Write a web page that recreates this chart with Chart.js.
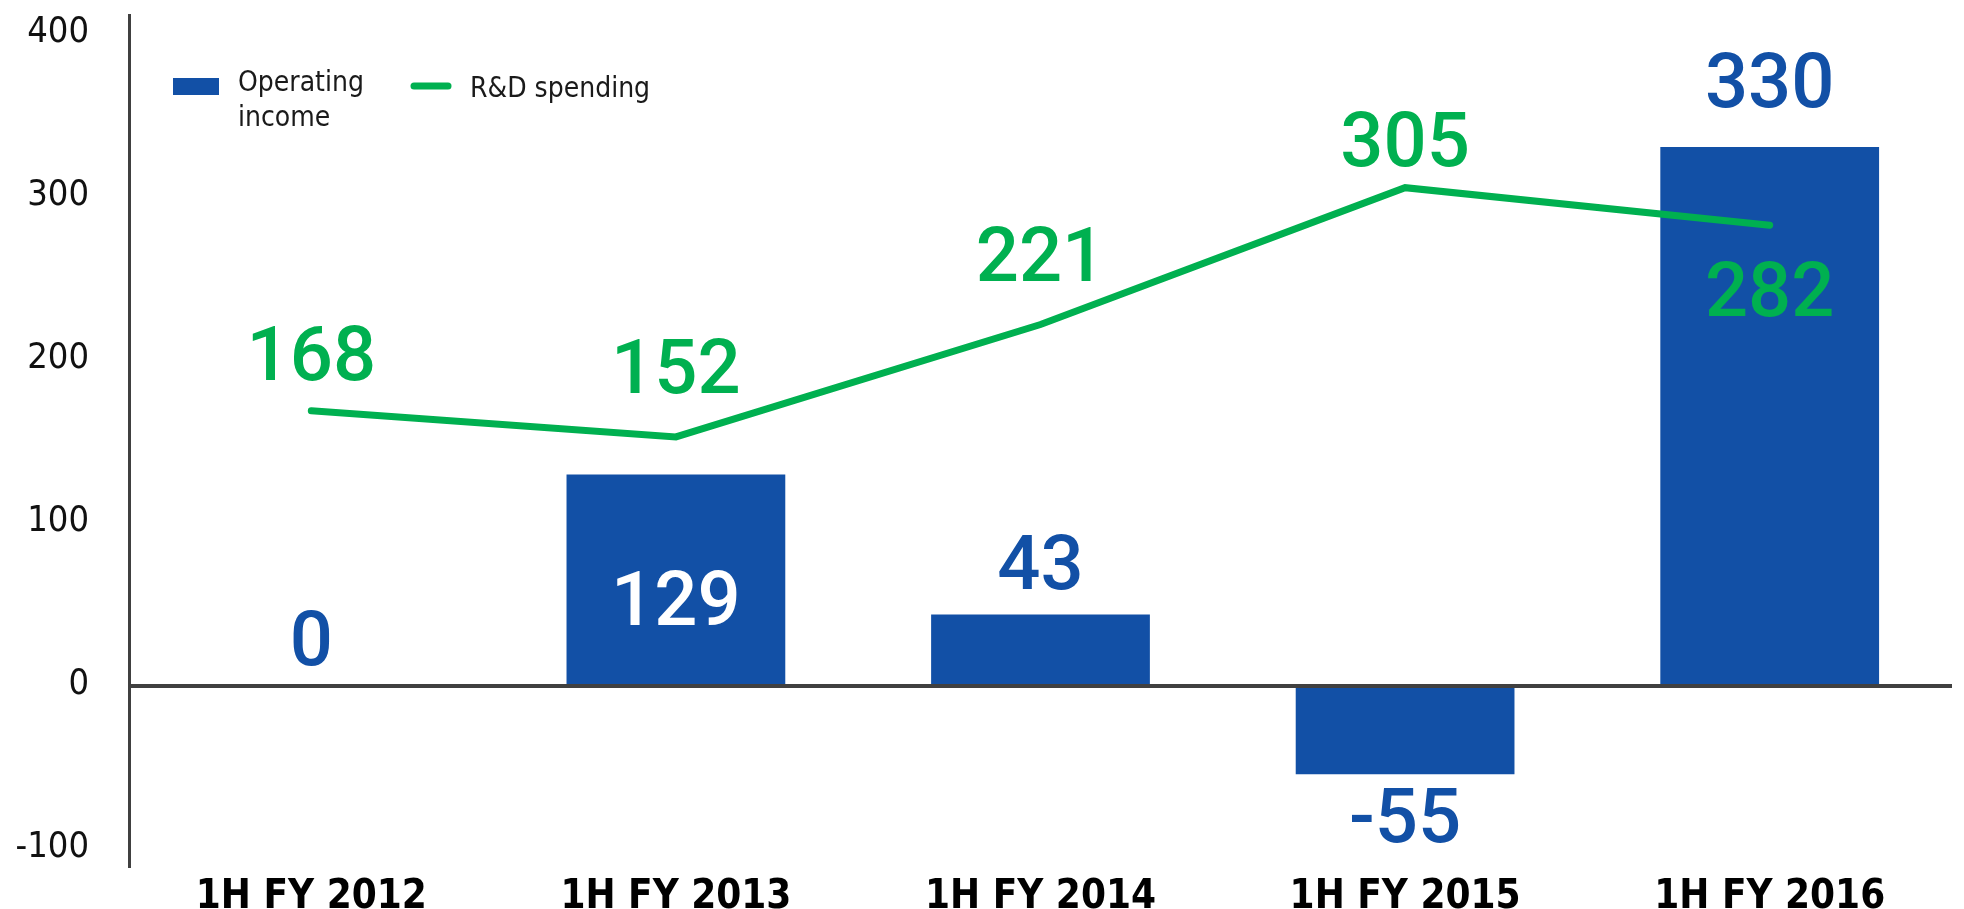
<!DOCTYPE html>
<html>
<head>
<meta charset="utf-8">
<script src="https://cdn.jsdelivr.net/npm/chart.js@4.4.0/dist/chart.umd.min.js"></script>
<style>
  html, body { margin: 0; padding: 0; background: #fff; }
  #wrap { width: 1964px; height: 909px; }
</style>
</head>
<body>
<div id="wrap"><canvas id="combo"></canvas></div>
<script>
const categories = ['1H FY 2012', '1H FY 2013', '1H FY 2014', '1H FY 2015', '1H FY 2016'];
const operatingIncome = [0, 129, 43, -55, 330];
const rdSpending = [168, 152, 221, 305, 282];
const yTicks = [-100, 0, 100, 200, 300, 400];

const BLUE = '#1250A6';
const GREEN = '#00B050';
const AXIS = '#404040';
const NARROW = '"DejaVu Sans Condensed", "Liberation Sans", sans-serif';

// label offsets from the mark's end (px)
const barLabelOffsets = [-39, 132, -44, 49, -59];
const barLabelColors = [BLUE, '#fff', BLUE, BLUE, BLUE];
const lineLabelOffsets = [-50, -63, -63, -41, 72];

const valueLabels = {
    id: 'valueLabels',
    afterDatasetsDraw(chart) {
        const c = chart.ctx;
        const y = chart.scales.y;
        // zero line on top of the bars
        c.save();
        c.strokeStyle = AXIS;
        c.lineWidth = 4;
        c.beginPath();
        const y0 = Math.round(y.getPixelForValue(0)) + 1;
        c.moveTo(chart.chartArea.left, y0);
        c.lineTo(chart.chartArea.right, y0);
        c.stroke();

        c.font = '500 76px Roboto';
        c.textAlign = 'center';
        c.textBaseline = 'middle';
        chart.getDatasetMeta(0).data.forEach((bar, i) => {
            c.fillStyle = barLabelColors[i];
            c.fillText(String(operatingIncome[i]), bar.x, bar.y + barLabelOffsets[i]);
        });
        chart.getDatasetMeta(1).data.forEach((pt, i) => {
            c.fillStyle = GREEN;
            c.fillText(String(rdSpending[i]), pt.x, pt.y + lineLabelOffsets[i]);
        });
        c.restore();
    },
    afterDraw(chart) {
        // legend
        const c = chart.ctx;
        c.save();
        c.fillStyle = BLUE;
        c.fillRect(173, 78, 46, 17);
        c.strokeStyle = GREEN;
        c.lineWidth = 7;
        c.lineCap = 'round';
        c.beginPath();
        c.moveTo(414, 86);
        c.lineTo(448, 86);
        c.stroke();
        c.fillStyle = '#1a1a1a';
        c.font = '28px ' + NARROW;
        c.textAlign = 'left';
        c.textBaseline = 'middle';
        c.fillText('Operating', 238, 84);
        c.fillText('income', 238, 119);
        c.fillText('R&D spending', 470, 90);
        c.restore();
    }
};

new Chart(document.getElementById('combo'), {
    type: 'bar',
    data: {
        labels: categories,
        datasets: [{
            label: 'Operating income',
            data: operatingIncome,
            backgroundColor: BLUE,
            barPercentage: 0.6,
            categoryPercentage: 1,
            order: 1
        }, {
            type: 'line',
            label: 'R&D spending',
            data: rdSpending,
            borderColor: GREEN,
            borderWidth: 7,
            borderCapStyle: 'round',
            pointRadius: 0,
            tension: 0,
            fill: false,
            order: 0
        }]
    },
    plugins: [valueLabels],
    options: {
        responsive: true,
        maintainAspectRatio: false,
        animation: false,
        layout: { padding: { top: 15, right: 12, left: 0, bottom: 0 } },
        plugins: {
            legend: { display: false },
            tooltip: { enabled: false }
        },
        scales: {
            x: {
                grid: { display: false },
                border: { display: false },
                ticks: {
                    color: '#000',
                    padding: 3,
                    font: { family: NARROW, size: 40, weight: 'bold', lineHeight: 1 }
                },
                afterFit(scale) {
                    scale.height = 42;
                    scale.paddingLeft = 0;
                    scale.paddingRight = 0;
                }
            },
            y: {
                min: -112,
                max: 411,
                afterBuildTicks(scale) { scale.ticks = yTicks.map(v => ({ value: v })); },
                grid: { display: false, drawTicks: false },
                border: { display: true, color: AXIS, width: 3 },
                ticks: {
                    color: '#111',
                    padding: 40,
                    font: { family: NARROW, size: 36 }
                },
                afterFit(scale) {
                    scale.width = 129;
                    scale.paddingTop = 0;
                    scale.paddingBottom = 0;
                }
            }
        }
    }
});
</script>
</body>
</html>
